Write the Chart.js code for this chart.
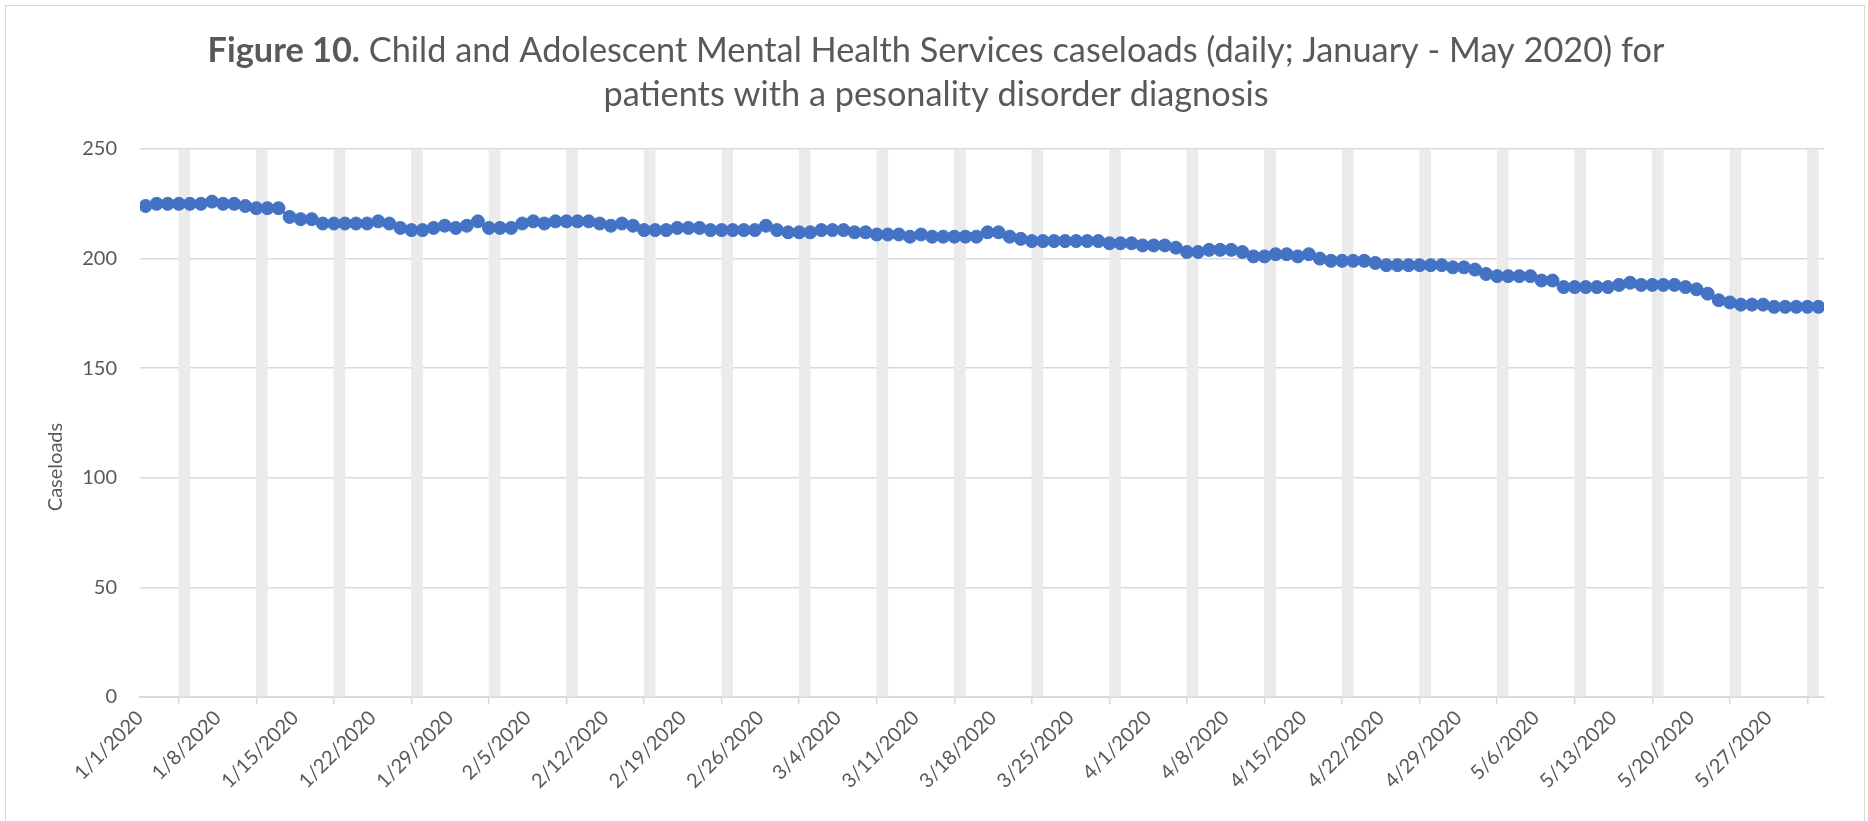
<!DOCTYPE html>
<html>
<head>
<meta charset="utf-8">
<script src="https://cdn.jsdelivr.net/npm/chart.js@4/dist/chart.umd.min.js"></script>
<style>
  html, body { margin: 0; padding: 0; background: #ffffff; }
  #wrap { position: relative; width: 1868px; height: 821px; overflow: hidden; background: #ffffff; }
  #c { position: absolute; left: 0; top: 0; }
  #frame { position: absolute; left: 5px; top: 5px; width: 1860px; height: 900px;
           border: 1.5px solid #D9D9D9; box-sizing: border-box; pointer-events: none; }
</style>
</head>
<body>
<div id="wrap">
  <canvas id="c" width="1868" height="821"></canvas>
  <div id="frame"></div>
</div>
<script>
// ---------------- data ----------------
const titleBold = 'Figure 10.';
const titleLine1 = ' Child and Adolescent Mental Health Services caseloads (daily; January - May 2020) for';
const titleLine2 = 'patients with a pesonality disorder diagnosis';
const yAxisTitle = 'Caseloads';

const startYear = 2020, startMonth = 0, startDay = 1; // 1/1/2020

// daily caseloads, 1/1/2020 .. 5/31/2020
const caseloads = [
  224,225,225,225,225,225,226,225,225,224,
  223,223,223,219,218,218,216,216,216,216,
  216,217,216,214,213,213,214,215,214,215,
  217,214,214,214,216,217,216,217,217,217,
  217,216,215,216,215,213,213,213,214,214,
  214,213,213,213,213,213,215,213,212,212,
  212,213,213,213,212,212,211,211,211,210,
  211,210,210,210,210,210,212,212,210,209,
  208,208,208,208,208,208,208,207,207,207,
  206,206,206,205,203,203,204,204,204,203,
  201,201,202,202,201,202,200,199,199,199,
  199,198,197,197,197,197,197,197,196,196,
  195,193,192,192,192,192,190,190,187,187,
  187,187,187,188,189,188,188,188,188,187,
  186,184,181,180,179,179,179,178,178,178,
  178,178
];

const tickLabels = [
  '1/1/2020','1/8/2020','1/15/2020','1/22/2020','1/29/2020','2/5/2020',
  '2/12/2020','2/19/2020','2/26/2020','3/4/2020','3/11/2020','3/18/2020',
  '3/25/2020','4/1/2020','4/8/2020','4/15/2020','4/22/2020','4/29/2020',
  '5/6/2020','5/13/2020','5/20/2020','5/27/2020'
];

const yTicks = [0, 50, 100, 150, 200, 250];
const weekendShadeValue = 250;   // height of the grey weekend columns

// ---------------- derived ----------------
const dates = caseloads.map((_, i) => new Date(startYear, startMonth, startDay + i));
const categories = dates.map(d => (d.getMonth() + 1) + '/' + d.getDate() + '/' + d.getFullYear());
const linePoints = caseloads.map((v, i) => ({ x: i, y: v }));
// weekend columns straddle Saturday / Sunday
const shadePoints = [];
dates.forEach((d, i) => { if (d.getDay() === 6) shadePoints.push({ x: i + 0.5, y: weekendShadeValue }); });

const FONT = 'Lato, "Open Sans", sans-serif';
const TEXT = '#595959';
Chart.defaults.font.family = FONT;
Chart.defaults.color = TEXT;

const textPlugin = {
  id: 'figureText',
  afterDraw(chart) {
    const ctx = chart.ctx;
    ctx.save();
    ctx.fillStyle = TEXT;
    ctx.textBaseline = 'alphabetic';
    // fit title line 1 to the reference width
    ctx.font = 'bold 100px ' + FONT;
    const wb100 = ctx.measureText(titleBold).width;
    ctx.font = '100px ' + FONT;
    const wr100 = ctx.measureText(titleLine1).width;
    const size = 100 * 1457 / (wb100 + wr100);
    ctx.font = 'bold ' + size + 'px ' + FONT;
    const wb = ctx.measureText(titleBold).width;
    ctx.font = size + 'px ' + FONT;
    const wr = ctx.measureText(titleLine1).width;
    const cx = 936;
    const x0 = cx - (wb + wr) / 2;
    ctx.font = 'bold ' + size + 'px ' + FONT;
    ctx.textAlign = 'left';
    ctx.fillText(titleBold, x0, 62);
    ctx.font = size + 'px ' + FONT;
    ctx.fillText(titleLine1, x0 + wb, 62);
    ctx.textAlign = 'center';
    ctx.fillText(titleLine2, cx, 106);
    // y axis title
    ctx.translate(56, 467);
    ctx.rotate(-Math.PI / 2);
    ctx.font = '20px ' + FONT;
    ctx.textAlign = 'center';
    ctx.textBaseline = 'middle';
    ctx.fillText(yAxisTitle, 0, 0);
    ctx.restore();
  }
};

new Chart(document.getElementById('c'), {
  type: 'line',
  data: {
    datasets: [
      {
        type: 'line', label: 'Caseloads', data: linePoints,
        borderColor: '#4472C4', backgroundColor: '#4472C4', borderWidth: 2.5,
        pointRadius: 6.5, pointBorderWidth: 1, pointBorderColor: '#4472C4', pointBackgroundColor: '#4472C4',
        pointHoverRadius: 6.5, tension: 0, order: 0
      },
      {
        type: 'bar', label: 'Weekend', data: shadePoints,
        backgroundColor: '#EBEBEB', borderWidth: 0, barThickness: 11, grouped: false, order: 1
      }
    ]
  },
  options: {
    responsive: false, animation: false, devicePixelRatio: 1,
    layout: { padding: { left: 0, right: 44, top: 149, bottom: 0 } },
    plugins: { legend: { display: false }, tooltip: { enabled: false }, title: { display: false } },
    scales: {
      x: {
        type: 'linear', min: -0.5, max: caseloads.length - 0.5, offset: false,
        afterBuildTicks: s => { s.ticks = tickLabels.map(t => ({ value: categories.indexOf(t) - 0.5 })); },
        afterFit: s => { s.height = 124; },
        ticks: { autoSkip: false, maxRotation: 45, minRotation: 45, padding: 2, color: TEXT, font: { size: 20 },
                 callback: (v, i) => tickLabels[i] },
        grid: { drawOnChartArea: false, drawTicks: true, tickLength: 7, color: '#D9D9D9', lineWidth: 1.5 },
        border: { display: true, color: '#D9D9D9', width: 2 }
      },
      y: {
        min: 0, max: 250,
        afterBuildTicks: s => { s.ticks = yTicks.map(v => ({ value: v })); },
        afterFit: s => { s.width = 140; },
        ticks: { padding: 23, color: TEXT, font: { size: 20 } },
        grid: { color: '#D9D9D9', lineWidth: 1.5, drawTicks: false },
        border: { display: false }
      }
    }
  },
  plugins: [textPlugin]
});
</script>
</body>
</html>
